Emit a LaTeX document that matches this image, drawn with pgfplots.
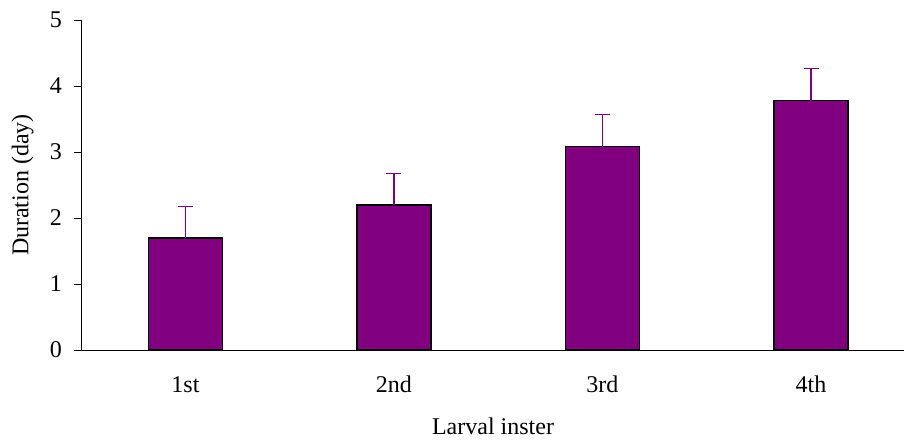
\documentclass[border=0pt]{standalone}
\usepackage{pgfplots}
\pgfplotsset{compat=1.18}
\usepackage{fontspec}
\setmainfont{Liberation Serif}
\definecolor{barpurple}{RGB}{128,0,128}
\begin{document}
\fontsize{24}{28}\selectfont
\begin{tikzpicture}
\path[use as bounding box] (0,0) rectangle (904pt,447pt);
\begin{axis}[
  at={(82pt,97pt)}, anchor=south west,
  scale only axis, width=822pt, height=330pt,
  xmin=-0.496, xmax=3.446, ymin=0, ymax=5,
  axis x line*=bottom, axis y line*=left,
  axis line style={line width=1pt, black},
  ytick={0,1,2,3,4,5},
  /pgf/number format/assume math mode=true,
  xtick={0,1,2,3}, xticklabels={1st,2nd,3rd,4th},
  x tick style={draw=none},
  y tick style={line width=1pt, black},
  tick align=outside, major tick length=8pt,
  yticklabel style={xshift=-4pt},
  xticklabel style={yshift=-10pt},
  tick label style={font=\fontsize{24}{28}\selectfont},
  label style={font=\fontsize{24}{28}\selectfont},
  xlabel={Larval inster},
  ylabel={Duration (day)},
  xlabel style={yshift=-9pt},
  ybar, bar width=74pt,
  clip=false,
]
\addplot[fill=barpurple, draw=black, line width=1.5pt,
  error bars/.cd, y dir=plus, y explicit,
  error bar style={color=barpurple, line width=1.2pt},
  error mark options={rotate=90, mark size=7.5pt, line width=1.2pt, barpurple}]
  coordinates {
  (0,1.70) +- (0,0.48)
  (1,2.20) +- (0,0.47)
  (2,3.08) +- (0,0.49)
  (3,3.78) +- (0,0.49)
  };
\end{axis}
\end{tikzpicture}
\end{document}
